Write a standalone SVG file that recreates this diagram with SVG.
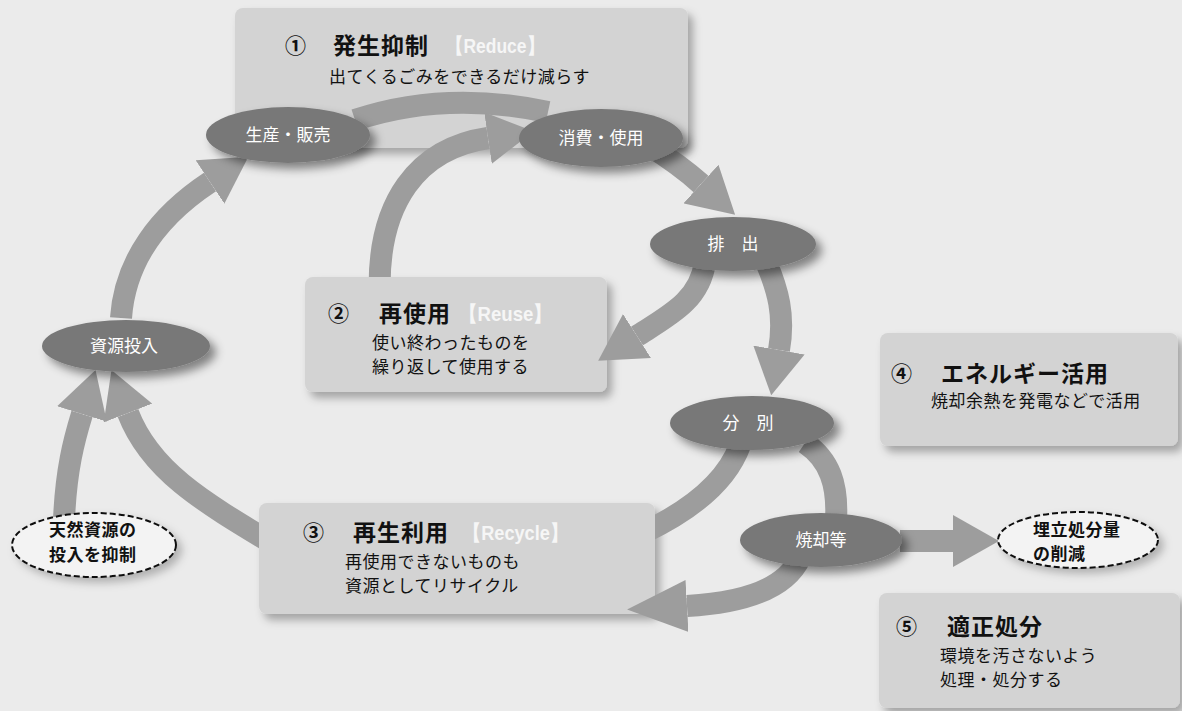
<svg xmlns="http://www.w3.org/2000/svg" width="1182" height="711" viewBox="0 0 1182 711">
<style>
.bg{fill:#ebebeb}
.box{fill:#d3d3d3;filter:url(#sh)}
.ell{fill:#787878;filter:url(#esh)}
.dash{fill:#f3f3f3;stroke:#111;stroke-width:2;stroke-dasharray:6 3;filter:url(#dsh)}
.band{fill:none;stroke:#9d9d9d;stroke-width:22;stroke-linecap:butt}
.ttl{font-family:"Noto Sans CJK JP","Noto Sans",sans-serif;font-weight:bold;font-size:23px;fill:#111;letter-spacing:1px}
.num{font-family:"Noto Sans CJK JP","Noto Sans",sans-serif;font-weight:bold;font-size:21px;fill:#111}
.en{font-family:"Liberation Sans Narrow","Liberation Sans",sans-serif;font-weight:bold;font-size:21px;fill:#f6f6f6}
.sub{font-family:"Noto Sans CJK JP","Noto Sans",sans-serif;font-size:17px;fill:#111;letter-spacing:0.5px}
.lbl{font-family:"Noto Sans CJK JP","Noto Sans",sans-serif;font-size:17px;fill:#fff;text-anchor:middle}
.dtx{font-family:"Noto Sans CJK JP","Noto Sans",sans-serif;font-weight:bold;font-size:17px;fill:#111;letter-spacing:0.5px}
</style>
<defs>
<filter id="sh" x="-10%" y="-10%" width="125%" height="140%"><feDropShadow dx="5" dy="6" stdDeviation="4" flood-color="#000" flood-opacity="0.3"/></filter>
<filter id="esh" x="-15%" y="-20%" width="140%" height="160%"><feDropShadow dx="6" dy="6" stdDeviation="5" flood-color="#000" flood-opacity="0.45"/></filter>
<filter id="dsh" x="-15%" y="-20%" width="140%" height="160%"><feDropShadow dx="5" dy="5" stdDeviation="4" flood-color="#000" flood-opacity="0.25"/></filter>
<marker id="ah" markerUnits="userSpaceOnUse" viewBox="0 0 46 52" markerWidth="46" markerHeight="52" refX="0" refY="26" orient="auto"><path d="M0 0L46 26L0 52Z" fill="#9d9d9d"/></marker>
<marker id="ahl" markerUnits="userSpaceOnUse" viewBox="0 0 60 52" markerWidth="60" markerHeight="52" refX="0" refY="26" orient="auto"><path d="M0 0L60 26L0 52Z" fill="#9d9d9d"/></marker>
<clipPath id="nob2"><path clip-rule="evenodd" d="M0 0H1182V711H0Z M305 277H607V392H305Z"/></clipPath>
<clipPath id="nob3"><path clip-rule="evenodd" d="M0 0H1182V711H0Z M259 503H655V614H259Z"/></clipPath>
</defs>
<rect class="bg" x="0" y="0" width="1182" height="711"/>

<g id="reduce">
<rect class="box" x="235" y="8" width="453" height="140" rx="8"/>
<text class="num" x="285" y="53">①</text>
<text class="ttl" x="333" y="54">発生抑制</text>
<text class="en" x="446" y="53" textLength="98" lengthAdjust="spacingAndGlyphs">【Reduce】</text>
<text class="sub" x="329" y="83">出てくるごみをできるだけ減らす</text>
</g>
<g id="reuse">
<rect class="box" x="305" y="277" width="302" height="115" rx="8"/>
<text class="num" x="328" y="321">②</text>
<text class="ttl" x="379" y="322">再使用</text>
<text class="en" x="459" y="321" textLength="93" lengthAdjust="spacingAndGlyphs">【Reuse】</text>
<text class="sub" x="372" y="349">使い終わったものを</text>
<text class="sub" x="372" y="373">繰り返して使用する</text>
</g>
<g id="recycle">
<rect class="box" x="259" y="503" width="396" height="111" rx="8"/>
<text class="num" x="303" y="540">③</text>
<text class="ttl" x="353" y="541">再生利用</text>
<text class="en" x="463" y="540" textLength="105" lengthAdjust="spacingAndGlyphs">【Recycle】</text>
<text class="sub" x="345" y="568">再使用できないものも</text>
<text class="sub" x="345" y="592">資源としてリサイクル</text>
</g>
<g id="energy">
<rect class="box" x="880" y="333" width="298" height="113" rx="8"/>
<text class="num" x="891" y="381">④</text>
<text class="ttl" x="941" y="382">エネルギー活用</text>
<text class="sub" x="931" y="407">焼却余熱を発電などで活用</text>
</g>
<g id="disposal">
<rect class="box" x="879" y="593" width="301" height="115" rx="8"/>
<text class="num" x="896" y="634">⑤</text>
<text class="ttl" x="947" y="635">適正処分</text>
<text class="sub" x="940" y="662">環境を汚さないよう</text>
<text class="sub" x="940" y="686">処理・処分する</text>
</g>

<g id="connectors">
<path class="band" d="M121 318C125 260 160 215 210 182" marker-end="url(#ah)"/>
<path class="band" d="M355 120Q445 90 548 112"/>
<path class="band" d="M380 300C375 200 420 148 488 138" marker-end="url(#ah)" clip-path="url(#nob2)"/>
<path class="band" d="M648 145Q680 165 701 184" marker-end="url(#ah)"/>
<path class="band" d="M705 262C700 300 670 315 637 336" marker-end="url(#ah)"/>
<path class="band" d="M766 262C778 290 785 315 779 350" marker-end="url(#ah)"/>
<path class="band" d="M740 445Q722 495 645 532" clip-path="url(#nob3)"/>
<path class="band" d="M275 545C200 500 150 470 128 413" marker-end="url(#ah)" clip-path="url(#nob3)"/>
<path class="band" d="M64 520C66 470 74 440 82 414" marker-end="url(#ah)"/>
<path class="band" d="M805 443C830 460 838 485 836 520"/>
<path class="band" d="M800 558C785 590 740 603 687 606" marker-end="url(#ahl)"/>
<path class="band" d="M900 541L953 541" marker-end="url(#ah)"/>
</g>

<g id="production"><ellipse class="ell" cx="288" cy="135" rx="82" ry="28"/><text class="lbl" x="288" y="141">生産・販売</text></g>
<g id="consumption"><ellipse class="ell" cx="601" cy="138" rx="82" ry="29"/><text class="lbl" x="601" y="144">消費・使用</text></g>
<g id="discharge"><ellipse class="ell" cx="733" cy="244" rx="83" ry="27"/><text class="lbl" x="733" y="250">排　出</text></g>
<g id="sorting"><ellipse class="ell" cx="752" cy="423" rx="82" ry="27"/><text class="lbl" x="748" y="429">分　別</text></g>
<g id="incineration"><ellipse class="ell" cx="821" cy="540" rx="81" ry="27"/><text class="lbl" x="821" y="546">焼却等</text></g>
<g id="input"><ellipse class="ell" cx="126" cy="346" rx="84" ry="26"/><text class="lbl" x="124" y="352">資源投入</text></g>
<g id="natural"><ellipse class="dash" cx="94" cy="545" rx="82" ry="32"/><text class="dtx" x="49" y="536">天然資源の</text><text class="dtx" x="49" y="561">投入を抑制</text></g>
<g id="landfill"><ellipse class="dash" cx="1078" cy="540" rx="80" ry="28"/><text class="dtx" x="1033" y="536">埋立処分量</text><text class="dtx" x="1033" y="560">の削減</text></g>
</svg>
